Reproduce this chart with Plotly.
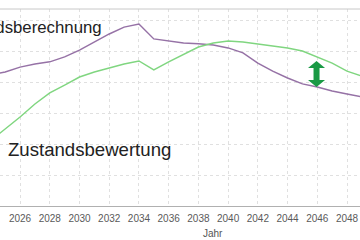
import plotly.graph_objects as go

years = list(range(2024, 2050))
berechnung = [42.3, 43.2, 44.8, 45.8, 46.5, 48.1, 50.3, 52.9, 55.5, 57.7, 58.7,
              53.9, 53.2, 52.6, 52.3, 51.9, 51.0, 49.4, 46.1, 43.5, 41.3, 39.4,
              38.4, 37.1, 36.1, 35.2]
bewertung = [21.0, 24.8, 28.7, 32.9, 36.5, 39.0, 41.6, 43.2, 44.5, 45.8, 46.8,
             43.9, 46.5, 49.0, 51.3, 52.6, 53.2, 52.9, 52.3, 51.6, 51.0, 50.0,
             48.1, 46.1, 43.5, 41.9]
tick_years = list(range(2024, 2050, 2))
label_top = "Zustandsberechnung"
label_bottom = "Zustandsbewertung"
axis_title = "Jahr"

fig = go.Figure()
fig.add_trace(go.Scatter(x=years, y=berechnung, mode="lines",
                         line=dict(color="#9672a6", width=1.5), showlegend=False))
fig.add_trace(go.Scatter(x=years, y=bewertung, mode="lines",
                         line=dict(color="#80d680", width=1.5), showlegend=False))

# double arrow
fig.add_shape(type="path", xref="x", yref="y", xsizemode="pixel", ysizemode="pixel",
              xanchor=2045.95, yanchor=42.6,
              path="M -3,-6 L -3,6 L -8.5,6 L 0,13 L 8.5,6 L 3,6 L 3,-6 L 8.5,-6 L 0,-13 L -8.5,-6 Z",
              fillcolor="#1a9a45", line=dict(width=0))

# top frame line
fig.add_shape(type="line", xref="paper", yref="paper", x0=0, x1=1, y0=1, y1=1,
              line=dict(color="#c8c8c8", width=1))

fig.add_annotation(text=label_top, xref="paper", yref="paper", x=104 / 360, y=(206 - 27) / 197,
                   xanchor="right", yanchor="middle", showarrow=False,
                   font=dict(family="Liberation Sans, Arial", size=16.8, color="#222"))
fig.add_annotation(text=label_bottom, xref="paper", yref="paper", x=6 / 360, y=(206 - 149) / 197,
                   xanchor="left", yanchor="middle", showarrow=False,
                   font=dict(family="Liberation Sans, Arial", size=18.6, color="#222"))
fig.add_annotation(text=axis_title, xref="x", yref="paper", x=2039, y=0, yshift=-27,
                   xanchor="center", yanchor="middle", showarrow=False,
                   font=dict(family="Liberation Sans, Arial", size=10, color="#555"))

fig.update_layout(
    width=360, height=240,
    margin=dict(l=0, r=0, t=9, b=34),
    paper_bgcolor="white", plot_bgcolor="white",
    xaxis=dict(range=[2024.65, 2048.875], tickvals=tick_years,
               ticktext=[str(y) for y in tick_years],
               showgrid=True, gridcolor="#e0e0e0", griddash="dot", gridwidth=1,
               showline=True, linecolor="#b0b0b0", linewidth=1, zeroline=False,
               ticks="", ticklabelstandoff=3,
               tickfont=dict(family="Liberation Sans, Arial", size=10, color="#5a5a5a")),
    yaxis=dict(range=[0, 63.55], dtick=10, showticklabels=False,
               showgrid=True, gridcolor="#e0e0e0", griddash="dot", gridwidth=1,
               zeroline=False, showline=False),
)

fig.write_html("out.html")
